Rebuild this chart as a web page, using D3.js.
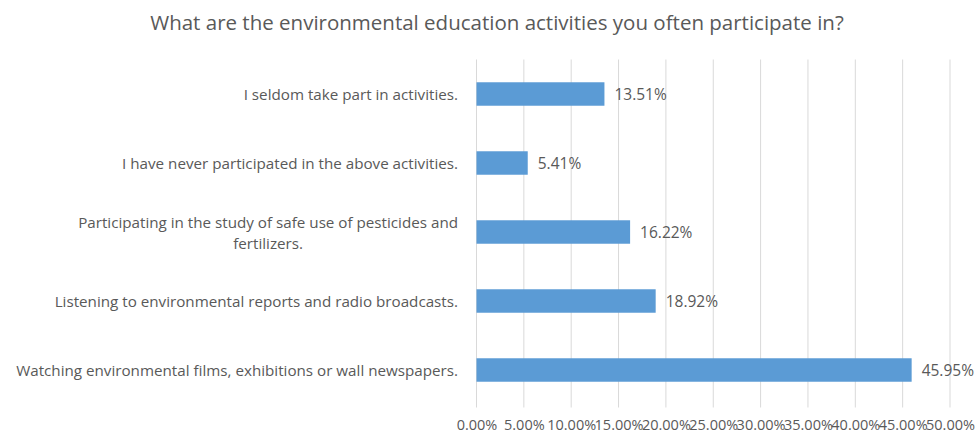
<!DOCTYPE html>
<html>
<head>
<meta charset="utf-8">
<script src="https://cdn.jsdelivr.net/npm/d3@7"></script>
<style>
  html, body { margin: 0; padding: 0; background: #fff; }
  svg { display: block; }
  text { font-family: "Open Sans", "Noto Sans", sans-serif; fill: #595959; }
</style>
</head>
<body>
<svg id="chart" width="979" height="434"></svg>
<script>
// Survey answers, listed top to bottom as they appear on the chart
const categories = [
  "I seldom take part in activities.",
  "I have never participated in the above activities.",
  "Participating in the study of safe use of pesticides and\nfertilizers.",
  "Listening to environmental reports and radio broadcasts.",
  "Watching environmental films, exhibitions or wall newspapers."
];
const values = [13.51, 5.41, 16.22, 18.92, 45.95];
const tickValues = [0, 5, 10, 15, 20, 25, 30, 35, 40, 45, 50];
const title = "What are the environmental education activities you often participate in?";

const svg = d3.select("#chart");

const plot = { left: 476.5, right: 950, top: 59.5, bottom: 404.5 };

const x = d3.scaleLinear().domain([0, 50]).range([plot.left, plot.right]);
const y = d3.scaleBand()
  .domain(categories)
  .range([plot.top, plot.bottom])
  .paddingInner(0.66)
  .paddingOuter(0.33);

// Title
svg.append("text")
  .attr("x", 497)
  .attr("y", 22)
  .attr("text-anchor", "middle")
  .attr("dominant-baseline", "central")
  .style("font-size", "20.5px")
  .text(title);

// Vertical gridlines
svg.append("g")
  .selectAll("line")
  .data(tickValues)
  .join("line")
  .attr("x1", d => x(d))
  .attr("x2", d => x(d))
  .attr("y1", plot.top)
  .attr("y2", plot.bottom + 3)
  .attr("stroke", "#d9d9d9")
  .attr("stroke-width", 1);

// Bottom axis labels (no domain line or tick marks)
const xAxis = d3.axisBottom(x)
  .tickValues(tickValues)
  .tickSize(0)
  .tickPadding(0)
  .tickFormat(d => d3.format(".2f")(d) + "%");

const axisG = svg.append("g")
  .attr("transform", `translate(0, ${plot.bottom + 20})`)
  .call(xAxis);
axisG.select(".domain").remove();
axisG.selectAll("text")
  .attr("fill", "#595959")
  .attr("dy", null)
  .attr("dominant-baseline", "central")
  .style("font-family", "'Open Sans', 'Noto Sans', sans-serif")
  .style("font-size", "14.5px");

// Bars
svg.append("g")
  .selectAll("rect")
  .data(categories)
  .join("rect")
  .attr("x", x(0))
  .attr("y", d => y(d))
  .attr("width", (d, i) => x(values[i]) - x(0))
  .attr("height", y.bandwidth())
  .attr("fill", "#5b9bd5");

// Value labels
svg.append("g")
  .selectAll("text")
  .data(categories)
  .join("text")
  .attr("x", (d, i) => x(values[i]) + 10)
  .attr("y", d => y(d) + y.bandwidth() / 2)
  .attr("dominant-baseline", "central")
  .style("font-size", "15.5px")
  .text((d, i) => d3.format(".2f")(values[i]) + "%");

// Category labels: right-aligned block, wrapped lines centred on each other
const labelRight = 458;
const lineGap = 21;
svg.append("g")
  .selectAll("g")
  .data(categories)
  .join("g")
  .each(function(d) {
    const g = d3.select(this);
    const lines = d.split("\n");
    const cy = y(d) + y.bandwidth() / 2;
    const texts = lines.map((ln, k) => g.append("text")
      .attr("y", cy + (k - (lines.length - 1) / 2) * lineGap)
      .attr("dominant-baseline", "central")
      .style("font-size", "15.2px")
      .text(ln));
    const widths = texts.map(t => t.node().getComputedTextLength());
    const maxW = d3.max(widths);
    const centre = labelRight - maxW / 2;
    texts.forEach(t => t.attr("x", centre).attr("text-anchor", "middle"));
  });
</script>
</body>
</html>
